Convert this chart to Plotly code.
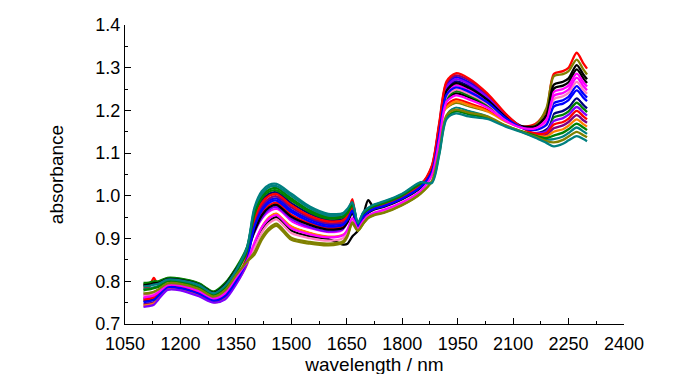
import plotly.graph_objects as go

# wavelengths (nm) at which each spectrum was read
wavelength = [1100, 1115, 1128, 1140, 1165, 1200, 1250, 1290, 1320, 1350,
              1380,
              1400, 1420, 1440, 1460, 1500, 1550, 1600, 1640, 1652, 1665,
              1680, 1695, 1708, 1725, 1750, 1800, 1850,
              1880, 1900, 1920, 1945, 1980, 2030, 2080,
              2120,
              2160, 2190, 2210, 2235, 2250, 2272, 2290, 2300]

spec_01 = [.793, .794, .797, .798, .807, .805, .794, .775, .793, .829,
           .860,
           .884, .920, .941, .950, .919, .905, .899, .886, .888, .905,
           .918, .955, .990, .970, .966, .983, 1.010,
           1.050, 1.132, 1.224, 1.240, 1.231, 1.210, 1.177,
           1.162,
           1.162, 1.185, 1.251, 1.258, 1.266, 1.296, 1.275, 1.264]
spec_02 = [.785, .786, .808, .791, .802, .801, .789, .771, .787, .823,
           .866,
           .922, .960, .978, .984, .956, .936, .925, .929, .950, .992,
           .929, .950, .961, .969, .975, .993, 1.020,
           1.044, 1.121, 1.211, 1.226, 1.217, 1.201, 1.172,
           1.162,
           1.168, 1.200, 1.285, 1.292, 1.300, 1.335, 1.310, 1.298]
spec_03 = [.796, .797, .800, .800, .808, .806, .795, .776, .795, .831,
           .880,
           .961, 1.000, 1.015, 1.018, .994, .966, .951, .953, .964, .980,
           .935, .959, .970, .978, .984, 1.002, 1.029,
           1.052, 1.136, 1.228, 1.245, 1.235, 1.213, 1.179,
           1.159,
           1.149, 1.154, 1.184, 1.190, 1.198, 1.218, 1.204, 1.196]
spec_04 = [.760, .761, .764, .772, .790, .789, .776, .759, .770, .806,
           .857,
           .934, .971, .989, .994, .967, .945, .932, .936, .947, .968,
           .930, .953, .964, .971, .978, .996, 1.023,
           1.066, 1.163, 1.259, 1.278, 1.266, 1.234, 1.189,
           1.164,
           1.155, 1.170, 1.217, 1.224, 1.232, 1.257, 1.239, 1.230]
spec_05 = [.768, .770, .773, .779, .794, .793, .780, .763, .776, .812,
           .854,
           .906, .943, .962, .969, .940, .923, .914, .918, .931, .955,
           .926, .946, .958, .965, .971, .989, 1.016,
           1.058, 1.148, 1.242, 1.259, 1.248, 1.222, 1.183,
           1.163,
           1.160, 1.181, 1.243, 1.250, 1.258, 1.286, 1.266, 1.256]
spec_06 = [.774, .775, .778, .783, .797, .795, .783, .766, .780, .815,
           .846,
           .862, .897, .920, .930, .897, .888, .884, .890, .905, .935,
           .918, .935, .948, .955, .960, .978, 1.005,
           1.040, 1.114, 1.202, 1.217, 1.208, 1.195, 1.170,
           1.161,
           1.165, 1.205, 1.280, 1.285, 1.292, 1.319, 1.296, 1.284]
spec_07 = [.754, .756, .759, .768, .787, .786, .773, .757, .767, .802,
           .858,
           .950, .988, 1.005, 1.008, .983, .958, .943, .946, .957, .975,
           .933, .957, .967, .975, .982, 1.000, 1.027,
           1.062, 1.155, 1.250, 1.268, 1.257, 1.228, 1.186,
           1.161,
           1.150, 1.158, 1.192, 1.199, 1.207, 1.228, 1.213, 1.205]
spec_08 = [.746, .748, .751, .761, .783, .782, .768, .753, .761, .796,
           .851,
           .939, .977, .994, .999, .973, .949, .936, .939, .951, .970,
           .931, .954, .965, .973, .979, .997, 1.024,
           1.068, 1.166, 1.264, 1.282, 1.271, 1.237, 1.191,
           1.161,
           1.144, 1.143, 1.158, 1.165, 1.173, 1.189, 1.177, 1.171]
spec_09 = [.782, .783, .786, .789, .801, .799, .788, .770, .786, .821,
           .875,
           .967, 1.005, 1.021, 1.023, 1.000, .971, .954, .957, .967, .983,
           .936, .961, .971, .979, .986, 1.004, 1.031,
           1.036, 1.106, 1.193, 1.207, 1.199, 1.189, 1.167,
           1.152,
           1.139, 1.132, 1.133, 1.139, 1.147, 1.160, 1.151, 1.145]
spec_10 = [.743, .745, .748, .759, .781, .780, .767, .751, .759, .794,
           .839,
           .895, .931, .952, .959, .929, .914, .906, .911, .925, .950,
           .924, .943, .955, .963, .968, .986, 1.013,
           1.042, 1.118, 1.206, 1.221, 1.213, 1.198, 1.171,
           1.155,
           1.142, 1.139, 1.150, 1.156, 1.164, 1.179, 1.168, 1.162]
spec_11 = [.740, .742, .745, .757, .780, .779, .765, .750, .757, .792,
           .842,
           .912, .948, .968, .974, .946, .927, .917, .922, .934, .958,
           .927, .947, .959, .966, .972, .990, 1.017,
           1.064, 1.159, 1.255, 1.273, 1.262, 1.231, 1.188,
           1.161,
           1.147, 1.151, 1.175, 1.182, 1.190, 1.208, 1.195, 1.188]
spec_12 = [.765, .767, .770, .776, .793, .791, .779, .762, .774, .810,
           .846,
           .879, .914, .936, .945, .913, .901, .895, .901, .915, .943,
           .921, .939, .952, .959, .964, .982, 1.009,
           1.054, 1.140, 1.233, 1.249, 1.239, 1.216, 1.180,
           1.161,
           1.157, 1.173, 1.226, 1.233, 1.241, 1.267, 1.248, 1.239]
spec_13 = [.776, .778, .781, .785, .798, .797, .785, .767, .782, .817,
           .857,
           .901, .937, .957, .964, .935, .919, .910, .915, .928, .953,
           .925, .945, .956, .964, .970, .988, 1.015,
           1.038, 1.110, 1.198, 1.212, 1.204, 1.192, 1.168,
           1.156,
           1.152, 1.162, 1.201, 1.207, 1.215, 1.238, 1.222, 1.213]
spec_14 = [.790, .792, .795, .796, .805, .803, .792, .773, .791, .827,
           .867,
           .917, .954, .973, .979, .951, .932, .921, .925, .938, .960,
           .928, .949, .960, .968, .974, .992, 1.019,
           1.060, 1.151, 1.246, 1.264, 1.253, 1.225, 1.185,
           1.164,
           1.163, 1.189, 1.260, 1.267, 1.275, 1.306, 1.284, 1.273]
spec_15 = [.757, .759, .762, .770, .788, .787, .774, .758, .768, .804,
           .858,
           .945, .983, 1.000, 1.004, .978, .953, .940, .943, .954, .973,
           .932, .955, .966, .974, .980, .998, 1.025,
           1.070, 1.170, 1.268, 1.287, 1.275, 1.240, 1.192,
           1.162,
           1.146, 1.147, 1.167, 1.173, 1.181, 1.199, 1.186, 1.179]
spec_16 = [.779, .781, .784, .787, .800, .798, .786, .768, .784, .819,
           .871,
           .956, .994, 1.010, 1.013, .989, .962, .947, .950, .960, .978,
           .934, .958, .968, .976, .983, 1.001, 1.028,
           1.032, 1.099, 1.184, 1.198, 1.191, 1.183, 1.164,
           1.152,
           1.141, 1.135, 1.141, 1.148, 1.156, 1.169, 1.160, 1.154]
spec_17 = [.751, .753, .756, .766, .786, .784, .771, .755, .765, .800,
           .851,
           .928, .965, .984, .989, .962, .940, .928, .932, .944, .965,
           .929, .951, .962, .970, .976, .994, 1.021,
           1.056, 1.144, 1.237, 1.254, 1.244, 1.219, 1.182,
           1.161,
           1.154, 1.166, 1.209, 1.216, 1.224, 1.247, 1.230, 1.222]
spec_18 = [.762, .764, .767, .774, .791, .790, .777, .760, .772, .808,
           .847,
           .890, .926, .947, .955, .924, .910, .903, .908, .921, .948,
           .923, .942, .954, .961, .967, .985, 1.012,
           1.048, 1.129, 1.220, 1.235, 1.226, 1.207, 1.176,
           1.160,
           1.158, 1.177, 1.234, 1.241, 1.249, 1.277, 1.257, 1.247]
spec_19 = [.771, .772, .775, .781, .795, .794, .782, .764, .778, .814,
           .846,
           .868, .903, .925, .935, .902, .892, .888, .894, .908, .938,
           .919, .936, .949, .956, .961, .979, 1.006,
           1.034, 1.103, 1.189, 1.202, 1.195, 1.186, 1.165,
           1.151,
           1.138, 1.128, 1.125, 1.131, 1.139, 1.150, 1.142, 1.137]
spec_20 = [.788, .789, .792, .794, .804, .802, .791, .772, .789, .825,
           .879,
           .972, 1.011, 1.026, 1.028, 1.005, .975, .958, .960, .970, .985,
           .937, .962, .972, .980, .987, 1.005, 1.032,
           1.030, 1.095, 1.180, 1.193, 1.186, 1.180, 1.162,
           1.150,
           1.136, 1.124, 1.116, 1.122, 1.130, 1.140, 1.133, 1.128]

spectra = [spec_01, spec_02, spec_03, spec_04, spec_05, spec_06, spec_07,
           spec_08, spec_09, spec_10, spec_11, spec_12, spec_13, spec_14,
           spec_15, spec_16, spec_17, spec_18, spec_19, spec_20]

line_colors = ["#000000", "#FF0000", "#008000", "#0000FF", "#FF00FF",
               "#808000", "#000080", "#800080", "#008080", "#FF8000",
               "#8000FF", "#FF80C0", "#FFFFFF", "#000000", "#FF0000",
               "#008000", "#0000FF", "#FF00FF", "#808000", "#008080"]

x_ticks = [1050, 1200, 1350, 1500, 1650, 1800, 1950, 2100, 2250, 2400]
y_ticks = [0.7, 0.8, 0.9, 1.0, 1.1, 1.2, 1.3, 1.4]

FONT = "Liberation Sans, Arial, sans-serif"

fig = go.Figure()
for spec, col in zip(spectra, line_colors):
    fig.add_trace(go.Scatter(
        x=wavelength, y=spec, mode="lines",
        line=dict(color=col, width=2.3, shape="spline", smoothing=0.8),
        showlegend=False, hoverinfo="skip"))

axis_common = dict(
    showgrid=False, zeroline=False, showline=True, linecolor="black",
    linewidth=1.3, ticks="inside", ticklen=6, tickwidth=1.3,
    tickcolor="black", mirror=False,
    tickfont=dict(family=FONT, size=18, color="black"),
)

fig.update_xaxes(
    range=[1050, 2400], tickmode="array", tickvals=x_ticks,
    ticktext=[str(v) for v in x_ticks], ticklabelstandoff=3,
    minor=dict(dtick=75, tick0=1050, ticks="inside", ticklen=3,
               tickwidth=1.3, tickcolor="black", showgrid=False),
    title=dict(text="wavelength / nm", standoff=1,
               font=dict(family=FONT, size=19, color="black")),
    **axis_common)
fig.update_yaxes(
    range=[0.7, 1.4], tickmode="array", tickvals=y_ticks,
    ticktext=[f"{v:.1f}" for v in y_ticks],
    minor=dict(dtick=0.05, tick0=0.7, ticks="inside", ticklen=3,
               tickwidth=1.3, tickcolor="black", showgrid=False),
    title=dict(text="absorbance", standoff=26,
               font=dict(family=FONT, size=19, color="black")),
    **axis_common)

fig.update_layout(
    width=700, height=374,
    margin=dict(l=117, r=84, t=17, b=58, autoexpand=False),
    plot_bgcolor="white", paper_bgcolor="white",
    font=dict(family=FONT, color="black"),
)

fig.write_html("out.html")
